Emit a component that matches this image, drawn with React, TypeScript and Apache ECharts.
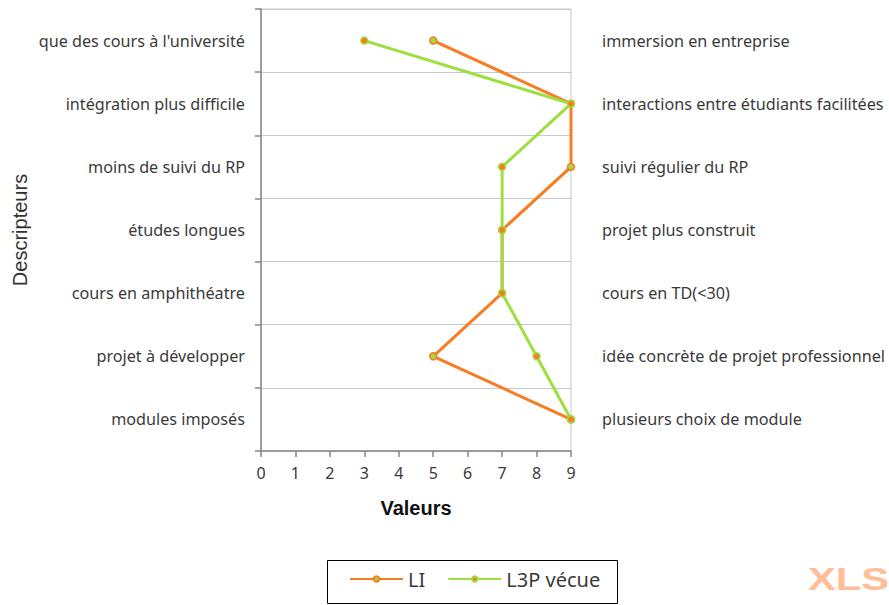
import React, { useEffect, useRef } from "react";
import * as echarts from "echarts";

const leftLabels = [
  "que des cours à l'université",
  "intégration plus difficile",
  "moins de suivi du RP",
  "études longues",
  "cours en amphithéatre",
  "projet à développer",
  "modules imposés",
];
const rightLabels = [
  "immersion en entreprise",
  "interactions entre étudiants facilitées",
  "suivi régulier du RP",
  "projet plus construit",
  "cours en TD(<30)",
  "idée concrète de projet professionnel",
  "plusieurs choix de module",
];
const liValues = [5, 9, 9, 7, 7, 5, 9];
const l3pValues = [3, 9, 7, 7, 7, 8, 9];

const ORANGE = "#F97B22";
const GREEN = "#9CDF3E";
const FONT = "Noto Sans";
const TEXT = "#3a3a3a";

export default function App() {
  const ref = useRef<HTMLDivElement>(null);
  useEffect(() => {
    if (!ref.current) return;
    const chart = echarts.init(ref.current, undefined, { renderer: "svg" });
    chart.setOption({
      animation: false,
      backgroundColor: "#ffffff",
      grid: {
        left: 261,
        right: 318,
        top: 9,
        bottom: 154,
        show: true,
        borderColor: "#c8c8c8",
        borderWidth: 1,
      },
      xAxis: {
        type: "value",
        min: 0,
        max: 9,
        interval: 1,
        name: "Valeurs",
        nameLocation: "middle",
        nameGap: 47,
        nameTextStyle: { fontFamily: "Liberation Sans", fontSize: 20, fontWeight: "bold", color: "#111" },
        axisLine: { show: true, lineStyle: { color: "#868686", width: 1.5 } },
        axisTick: { show: true, length: 6, lineStyle: { color: "#868686", width: 1.5 } },
        axisLabel: { fontFamily: FONT, fontSize: 16, color: TEXT, margin: 14 },
        splitLine: { show: false },
      },
      yAxis: [
        {
          type: "category",
          data: leftLabels,
          inverse: true,
          boundaryGap: true,
          name: "Descripteurs",
          nameLocation: "middle",
          nameGap: 231,
          nameRotate: 90,
          nameTextStyle: { fontFamily: "Liberation Sans", fontSize: 20, color: "#333" },
          axisLine: { show: true, lineStyle: { color: "#868686", width: 1.5 } },
          axisTick: { show: true, length: 6, lineStyle: { color: "#868686", width: 1.5 } },
          axisLabel: { fontFamily: FONT, fontSize: 16.2, color: TEXT, margin: 16 },
          splitLine: { show: true, lineStyle: { color: "#c8c8c8", width: 1 } },
        },
        {
          type: "category",
          data: rightLabels,
          inverse: true,
          boundaryGap: true,
          position: "right",
          axisLine: { show: false },
          axisTick: { show: false },
          axisLabel: { fontFamily: FONT, fontSize: 16.2, color: TEXT, margin: 31, align: "left" },
          splitLine: { show: false },
        },
      ],
      legend: {
        left: 349,
        top: 569,
        padding: 0,
        itemWidth: 53,
        itemHeight: 7,
        itemGap: 22,
        textStyle: { fontFamily: FONT, fontSize: 20, color: TEXT },
        data: ["LI", "L3P vécue"],
      },
      series: [
        {
          name: "LI",
          type: "line",
          data: liValues.map((v, i) => [v, leftLabels[i]]),
          yAxisIndex: 0,
          lineStyle: { color: ORANGE, width: 3 },
          itemStyle: { color: GREEN, borderColor: ORANGE, borderWidth: 1.5 },
          symbol: "circle",
          symbolSize: 7,
          z: 2,
        },
        {
          name: "L3P vécue",
          type: "line",
          data: l3pValues.map((v, i) => [v, leftLabels[i]]),
          yAxisIndex: 0,
          lineStyle: { color: GREEN, width: 3 },
          itemStyle: { color: ORANGE, borderColor: GREEN, borderWidth: 1.5 },
          symbol: "circle",
          symbolSize: 7,
          z: 3,
        },
      ],
      graphic: [
        {
          type: "rect",
          shape: { x: 327.5, y: 560.5, width: 290, height: 43 },
          style: { fill: "none", stroke: "#000", lineWidth: 1 },
          z: 1,
        },
        {
          type: "text",
          x: 808,
          y: 563,
          scaleX: 1.3,
          style: {
            text: "XLS",
            fontFamily: "Liberation Sans",
            fontWeight: "bold",
            fontSize: 32,
            fill: "#FFBE98",
          },
        },
      ],
    });
    return () => chart.dispose();
  }, []);
  return (
    <div
      ref={ref}
      style={{ position: "absolute", left: 0, top: 0, width: 889, height: 605 }}
    />
  );
}
